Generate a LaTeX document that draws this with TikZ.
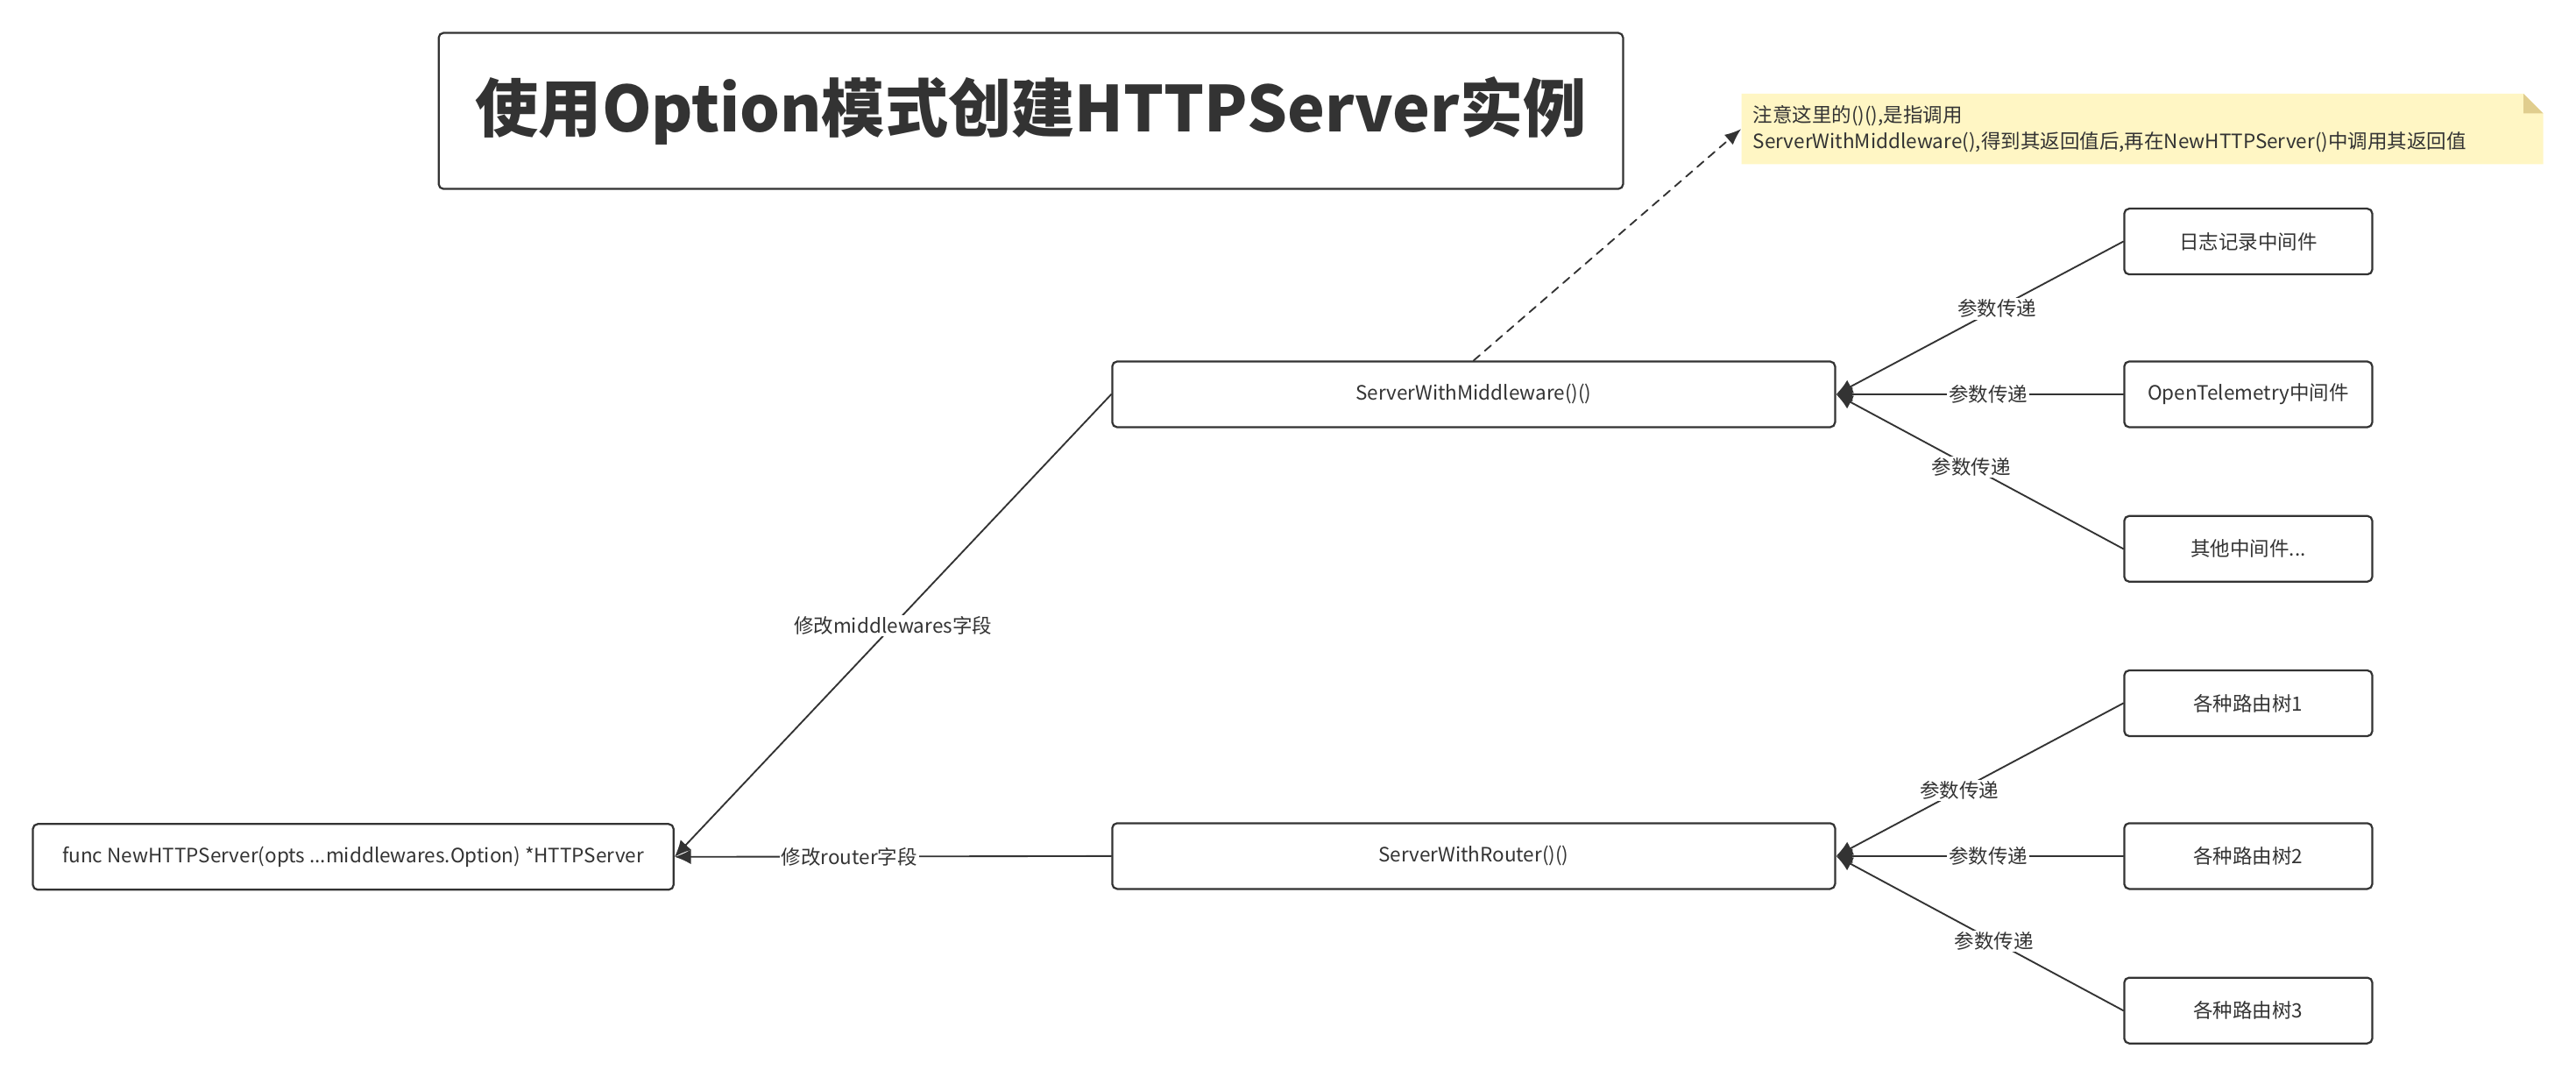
\documentclass[tikz,border=0pt]{standalone}
\usepackage{fontspec}
\setmainfont{Noto Sans CJK SC}
\usepackage{xcolor}
\usepackage{tikz}
\usetikzlibrary{arrows.meta}
\definecolor{ink}{HTML}{333333}
\definecolor{notefill}{HTML}{FFF6C4}
\definecolor{noteear}{HTML}{E0CD8E}
\tikzset{
  BoxBase/.style={
    draw=ink, line width=1.2pt, rounded corners=3pt,
    minimum height=40pt, inner sep=0pt,
    text=ink, font=\fontsize{12}{14}\selectfont
  },
  FuncBox/.style={BoxBase, minimum width=390pt},
  OptBox/.style={BoxBase, minimum width=440pt},
  LeafBox/.style={BoxBase, minimum width=151pt},
  TitleBox/.style={
    draw=ink, line width=1.2pt, rounded corners=3pt,
    minimum width=721pt, minimum height=95pt,
    text=ink, font=\fontsize{38.5}{42}\selectfont\bfseries
  },
  NoteBox/.style={
    text width=474pt, inner xsep=7pt, inner ysep=0pt,
    minimum height=43pt, align=left,
    text=ink, font=\fontsize{12}{16}\selectfont
  },
  EdgeLabel/.style={
    fill=white, inner sep=1pt, text=ink,
    font=\fontsize{12}{14}\selectfont
  },
  PassLink/.style={draw=ink, line width=1pt, -{Latex[length=10pt,width=9pt]}},
  NoteLink/.style={
    draw=ink, line width=1pt, dash pattern=on 5pt off 4pt,
    -{Latex[length=10pt,width=8pt]}
  }
}

\begin{document}
\begin{tikzpicture}[x=1pt, y=-1pt, line cap=round, line join=round]
  \useasboundingbox (0,0) rectangle (1568,655);

  \node[TitleBox] (title) at (627.5,67.5) {使用Option模式创建HTTPServer实例};

  % sticky note with folded corner
  \fill[notefill] (1060,57) -- (1536,57) -- (1548,69) -- (1548,100) -- (1060,100) -- cycle;
  \fill[noteear] (1536,57) -- (1536,69) -- (1548,69) -- cycle;
  \node[NoteBox] (note) at (1304,78.5)
    {注意这里的()(),是指调用\\ServerWithMiddleware(),得到其返回值后,再在NewHTTPServer()中调用其返回值};

  \node[FuncBox] (newsrv) at (215,521.5) {func NewHTTPServer(opts ...middlewares.Option) *HTTPServer};
  \node[OptBox] (withmw) at (897,240) {ServerWithMiddleware()()};
  \node[OptBox] (withrt) at (897,521) {ServerWithRouter()()};

  \node[LeafBox] (logmw)   at (1368.5,147) {日志记录中间件};
  \node[LeafBox] (otelmw)  at (1368.5,240) {OpenTelemetry中间件};
  \node[LeafBox] (othermw) at (1368.5,334) {其他中间件...};
  \node[LeafBox] (tree1)   at (1368.5,428) {各种路由树1};
  \node[LeafBox] (tree2)   at (1368.5,521) {各种路由树2};
  \node[LeafBox] (tree3)   at (1368.5,615) {各种路由树3};

  % leaves feed their option
  \foreach \src/\dst/\p in {logmw/withmw/0.44, otelmw/withmw/0.47, othermw/withmw/0.53,
                            tree1/withrt/0.57, tree2/withrt/0.47, tree3/withrt/0.45}
    \draw[PassLink] (\src.west) -- node[EdgeLabel, pos=\p] {参数传递} (\dst.east);

  \draw[PassLink] (withmw.west) -- node[EdgeLabel, pos=0.5] {修改middlewares字段} (newsrv.east);
  \draw[PassLink] (withrt.west) -- node[EdgeLabel, pos=0.6] {修改router字段} (newsrv.east);

  \draw[NoteLink] (withmw.north) -- (note.west);
\end{tikzpicture}
\end{document}
